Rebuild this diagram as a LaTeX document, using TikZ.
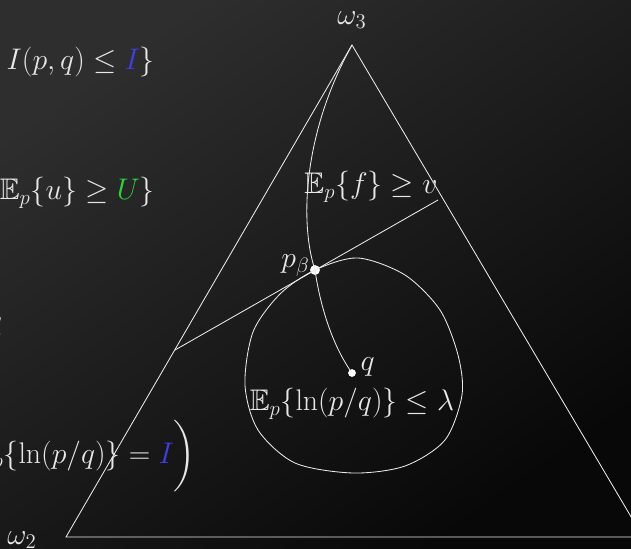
\RequirePackage{fix-cm}
\documentclass[tikz,border=0pt]{standalone}
\usepackage{amsmath,amssymb}
\usepackage{xcolor}
\usepackage{tikz}
\usetikzlibrary{positioning}
\definecolor{chalk}{RGB}{232,232,232}
\definecolor{chalkblue}{RGB}{62,62,235}
\definecolor{chalkgreen}{RGB}{40,215,60}
\definecolor{bgtop}{RGB}{46,46,46}
\definecolor{bgbot}{RGB}{8,8,8}

\begin{document}
\begin{tikzpicture}[
    x=0.711pt,
    y=-0.711pt,
    chalkline/.style={
        draw=white!92!black,
        line width=0.6pt
    },
    formula/.style={
        text=chalk,
        inner sep=0pt,
        font=\fontsize{21.2}{25}\selectfont
    },
    dot/.style={
        circle,
        fill=white,
        inner sep=0pt,
        minimum size=#1
    }
]

% Background
\useasboundingbox (0,0) rectangle (631,548);
\shade[top color=bgtop, bottom color=bgbot, shading angle=35] (0,0) rectangle (631,548);

% Simplex corners
\coordinate (c3) at (352,45);
\coordinate (c2) at (66,537);
\coordinate (c1) at (643,537);
\draw[chalkline] (c3) -- (c2) -- (c1) -- cycle;
\node[formula] (w3) at (352,20) {$\omega_3$};
\node[formula] (w2) at (22,540) {$\omega_2$};

% Points
\node[dot=7pt] (pb) at (315,270) {};
\node[dot=5.5pt] (q) at (352,373) {};
\node[formula, left=0pt of pb, yshift=3pt] (pblab) {$p_\beta$};
\node[formula, right=3pt of q, yshift=4pt] (qlab) {$q$};

% Tangent line
\coordinate (tl) at (175,350);
\coordinate (tr) at (438,200);
\draw[chalkline] (tl) -- (tr);

% Path from the vertex through p_beta to q
\draw[chalkline] (c3) .. controls (302,135) and (300,225) .. (pb.center)
    .. controls (320,305) and (332,345) .. (q.center);

% Divergence ball
\draw[chalkline] plot[smooth cycle] coordinates {
    (pb.center) (358,258) (405,275) (440,310) (458,355) (462,395)
    (445,440) (405,466) (353,473) (295,463) (258,430) (245,385)
    (253,332) (280,294)};

% Constraints
\node[formula] (fcon) at (371,187) {$\mathbb{E}_p\{f\} \geq v$};
\node[formula] (kl) at (352,404) {$\mathbb{E}_p\{\ln(p/q)\} \leq \lambda$};
\node[formula, anchor=east] (info) at (155,62) {$I(p,q) \leq \textcolor{chalkblue}{I}\}$};
\node[formula, anchor=east] (util) at (155,193) {$\mathbb{E}_p\{u\} \geq \textcolor{chalkgreen}{U}\}$};
\node[formula, anchor=east] (frag) at (3,328) {$l$};
\node[formula, anchor=east] (dist) at (196,456) {$\mathbb{E}_p\{\ln(p/q)\} = \textcolor{chalkblue}{I}\bigg)$};

\end{tikzpicture}
\end{document}
